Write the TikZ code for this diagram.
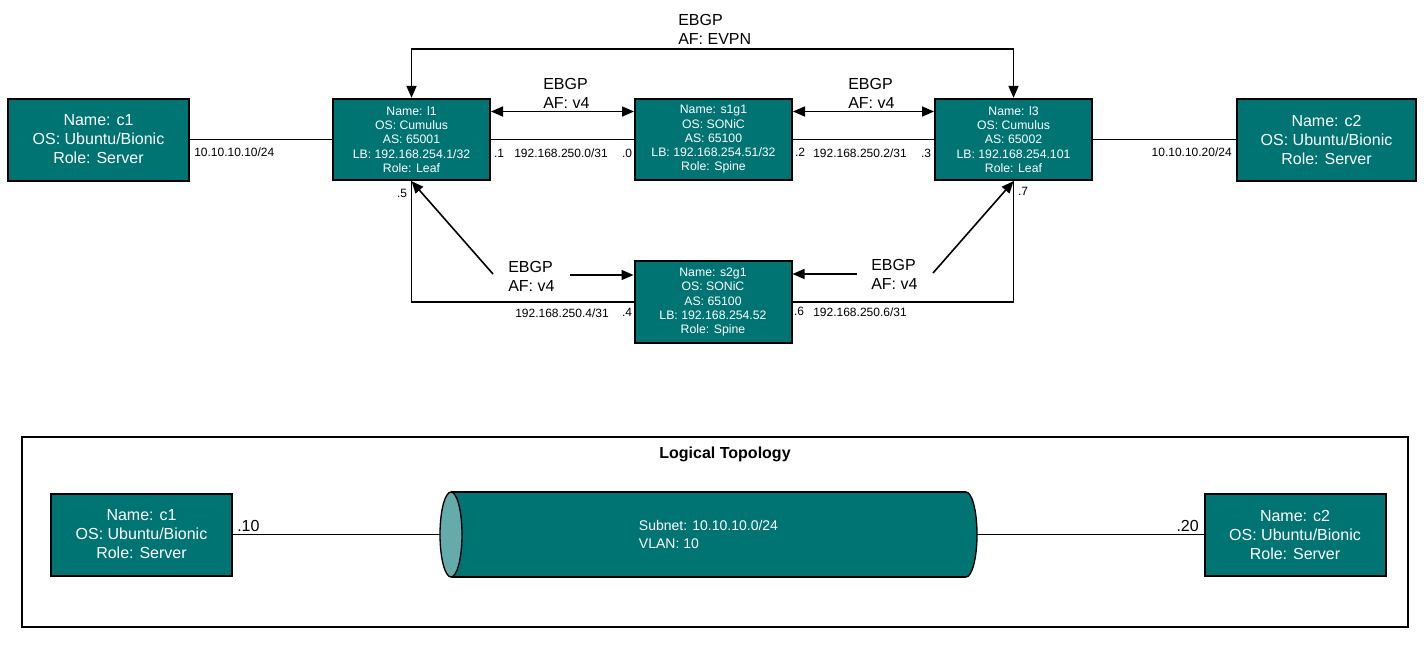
\documentclass[tikz,border=0pt]{standalone}
\usepackage{fontspec}
\setmainfont{Liberation Sans}
\usetikzlibrary{arrows.meta,calc}
\definecolor{tealbox}{HTML}{007373}
\definecolor{tealface}{HTML}{66ABAB}
\begin{document}
\begin{tikzpicture}[x=0.75pt,y=-0.75pt,
  devbig/.style={draw=black, line width=1.5pt, fill=tealbox, text=white, align=center, inner sep=0pt,
    font=\fontsize{12pt}{14.25pt}\selectfont, minimum width=135.75pt, minimum height=61.5pt},
  devsmall/.style={draw=black, line width=1.5pt, fill=tealbox, text=white, align=center, inner sep=0pt,
    font=\fontsize{9.2pt}{10.7pt}\selectfont, minimum width=117.75pt, minimum height=61pt},
  link/.style={line width=1.2pt},
  arr/.style={link, -{Triangle[length=9pt,width=7.5pt]}},
  both/.style={link, {Triangle[length=9pt,width=7.5pt]}-{Triangle[length=9pt,width=7.5pt]}},
  lbl/.style={font=\fontsize{9pt}{10.8pt}\selectfont, inner sep=0pt},
  biglbl/.style={font=\fontsize{12pt}{14.4pt}\selectfont, inner sep=0pt},
  proto/.style={font=\fontsize{12pt}{14.25pt}\selectfont, align=left, inner sep=0pt, anchor=west},
]
\useasboundingbox (0,0) rectangle (1426,653);

% physical topology devices
\node[devbig] (c1) at (98.5,139.5) {Name: c1\\OS: Ubuntu/Bionic\\Role: Server};
\node[devsmall] (l1) at (411.5,139.5) {Name: l1\\OS: Cumulus\\AS: 65001\\LB: 192.168.254.1/32\\Role: Leaf};
\node[devsmall] (s1g1) at (713.5,139.5) {Name: s1g1\\OS: SONiC\\AS: 65100\\LB: 192.168.254.51/32\\Role: Spine};
\node[devsmall] (l3) at (1013.5,139.5) {Name: l3\\OS: Cumulus\\AS: 65002\\LB: 192.168.254.101\\Role: Leaf};
\node[devbig, minimum width=134.25pt] (c2) at (1326.5,139.5) {Name: c2\\OS: Ubuntu/Bionic\\Role: Server};
\node[devsmall] (s2g1) at (713,302) {Name: s2g1\\OS: SONiC\\AS: 65100\\LB: 192.168.254.52\\Role: Spine};

% physical links
\draw[link] (c1.east) -- (l1.west);
\draw[link] (l1.east) -- (s1g1.west);
\draw[link] (s1g1.east) -- (l3.west);
\draw[link] (l3.east) -- (c2.west);
\draw[link] (l1.south) |- (s2g1.west);
\draw[link] (s2g1.east) -| (l3.south);

% BGP sessions
\draw[both] (l1.north) -- ++(0,-49) -| (l3.north);
\draw[both] ([yshift=21pt]l1.east) -- ([yshift=21pt]s1g1.west);
\draw[both] ([yshift=21pt]s1g1.east) -- ([yshift=21pt]l3.west);
\coordinate (d1) at (493,274);
\coordinate (h1) at (570,275);
\coordinate (h2) at (857,274);
\coordinate (d2) at (933,273);
\draw[arr] (d1) -- (l1.south);
\draw[arr] (h1) -- (h1 -| s2g1.west);
\draw[arr] (h2) -- (h2 -| s2g1.east);
\draw[arr] (d2) -- (l3.south);

% protocol labels
\node[proto] (pevpn) at (678,29) {EBGP\\AF: EVPN};
\node[proto] (p1) at (543,93) {EBGP\\AF: v4};
\node[proto] (p2) at (848,93) {EBGP\\AF: v4};
\node[proto] (p3) at (508,276.5) {EBGP\\AF: v4};
\node[proto] (p4) at (871,274) {EBGP\\AF: v4};

% address labels
\node[lbl, anchor=west] (a1) at (194,152.5) {10.10.10.10/24};
\node[lbl, anchor=east] (a2) at (1232,152.5) {10.10.10.20/24};
\node[lbl] (i1) at (499,153.5) {.1};
\node[lbl] (n1) at (561,153.5) {192.168.250.0/31};
\node[lbl] (i0) at (627,153) {.0};
\node[lbl] (i2) at (800,152.5) {.2};
\node[lbl] (n2) at (860,153.5) {192.168.250.2/31};
\node[lbl] (i3) at (926,153) {.3};
\node[lbl] (i5) at (402,193) {.5};
\node[lbl] (n4) at (562,313) {192.168.250.4/31};
\node[lbl] (i4) at (627,312) {.4};
\node[lbl] (i6) at (799,311) {.6};
\node[lbl] (n6) at (860,312.5) {192.168.250.6/31};
\node[lbl] (i7) at (1023,191) {.7};

% logical topology
\draw[line width=1.5pt] (22,437) rectangle (1408,627);
\node[font=\bfseries\fontsize{12pt}{14.4pt}\selectfont, inner sep=0pt] (title) at (725,454.5) {Logical Topology};
\node[devbig] (c1b) at (141.5,534.5) {Name: c1\\OS: Ubuntu/Bionic\\Role: Server};
\node[devbig] (c2b) at (1295,534.5) {Name: c2\\OS: Ubuntu/Bionic\\Role: Server};

% cylinder
\filldraw[fill=tealbox, draw=black, line width=1pt] (966,534.5) ellipse[x radius=11, y radius=42.5];
\fill[tealbox] (451,492) rectangle (966,577);
\draw[line width=1pt] (451,492) -- (966,492);
\draw[line width=1pt] (451,577) -- (966,577);
\filldraw[fill=tealface, draw=black, line width=1pt] (451,534.5) ellipse[x radius=11, y radius=42.5];
\node[minimum width=402.75pt, minimum height=63.75pt, inner sep=0pt, text=white, align=left,
  font=\fontsize{10.5pt}{13.5pt}\selectfont] (cyl) at (708.5,534.5) {Subnet: 10.10.10.0/24\\VLAN: 10};

\draw[link] (c1b.east) -- (cyl.west);
\draw[link] (cyl.east) -- (c2b.west);
\node[biglbl, anchor=base west] (t10) at (237,531.5) {.10};
\node[biglbl, anchor=base east] (t20) at (1199,531.5) {.20};
\end{tikzpicture}
\end{document}
